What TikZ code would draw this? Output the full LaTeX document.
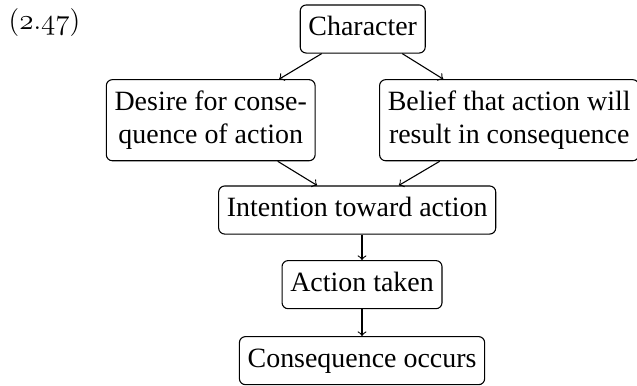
\documentclass[tikz,border=0pt]{standalone}
\usepackage{fontspec}
\usepackage{tikz}
\usetikzlibrary{calc}
\usetikzlibrary{shapes}
\newfontfamily\boxfont{Liberation Serif}
\tikzset{stepbox/.style={draw,rounded corners=2.5pt,align=center,inner xsep=3.4pt,inner ysep=3.1pt,font=\boxfont\fontsize{11.5}{13.6}\selectfont}}
\newcommand{\boxnode}[4]{\node[stepbox] (#1) at ( #2 , #3 ) {#4};}
\newcommand{\osnum}[1]{{\usefont{OML}{cmm}{m}{it}#1}}

\begin{document}
\begin{tikzpicture}[line width=0.45pt]
        \useasboundingbox (0,0) rectangle (9.22,-5.586);
        %label
        \node[anchor=west,font=\fontsize{11.5}{13.6}\selectfont] (num) at (0.0,-0.33) {(\osnum{2}.\osnum{47})};

        %nodes
        \boxnode{char}{5.25}{-0.42}{\strut Character}
        \boxnode{desire}{3.05}{-1.74}{\strut Desire for conse-\\\strut quence of action}
        \boxnode{belief}{7.37}{-1.74}{\strut Belief that action will\\\strut result in consequence}
        \boxnode{intent}{5.17}{-3.04}{\strut Intention toward action}
        \boxnode{taken}{5.24}{-4.12}{\strut Action taken}
        \boxnode{occurs}{5.24}{-5.22}{\strut Consequence occurs}

        %edges
        \draw[->] (char) -- (desire);
        \draw[->] (char) -- (belief);
        \draw[->] (desire) -- (intent);
        \draw[->] (belief) -- (intent);
        \draw[->] (intent.south -| taken) -- (taken);
        \draw[->] (taken) -- (occurs);
\end{tikzpicture}
\end{document}
